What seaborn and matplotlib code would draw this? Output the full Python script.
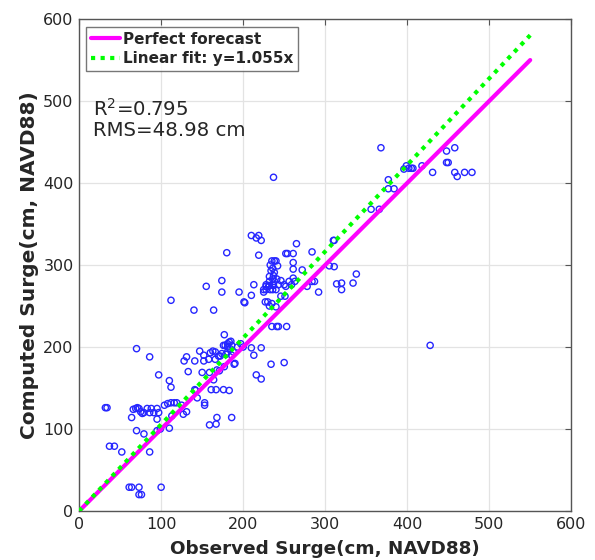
import numpy as np
import pandas as pd
import matplotlib
matplotlib.use("Agg")
import matplotlib.pyplot as plt
import seaborn as sns

observed = [
    32, 34, 37, 43, 52, 61, 64, 73, 73, 76, 100, 70, 86, 64,
    66, 69, 71, 73, 75, 77, 79, 70, 79, 86, 83, 88, 95, 86, 91, 97,
    95, 95, 99, 110, 97, 110, 112, 104, 108, 112, 116, 119, 113,
    125, 127, 131,
    128, 131, 133, 141, 141, 142, 144, 147, 150, 153, 153, 152, 152,
    159, 159, 160, 163, 166, 158, 166, 161, 167, 164, 168, 168, 167,
    171, 172, 170, 174, 176, 183, 177, 177, 176, 178, 181, 183, 185,
    181, 184, 181, 186, 188, 179, 186, 186, 189, 190, 193, 197, 200,
    202, 210, 213, 216, 222, 222, 234, 235, 241, 243, 253, 250,
    237, 210, 216, 219, 222, 180, 219, 265, 284, 174, 174, 155, 112,
    140, 164, 195, 201, 210, 213, 225, 228, 231,
    235, 238, 240, 233, 242, 236, 234, 238, 237, 232, 236, 241, 232,
    238, 228, 232, 237, 243, 225, 228, 233, 236, 240,
    227, 230, 235, 232, 240, 246, 251,
    246, 250, 252, 256, 259, 261, 263,
    252, 254, 261, 261, 261, 272, 278, 284, 287, 292,
    305, 311, 310, 311, 314, 320, 320, 334, 338, 356, 366,
    368, 377, 377, 384, 396, 399, 402, 405, 407, 418, 431,
    448, 448, 450, 458, 458, 461, 470, 479, 428,
]
computed = [
    126, 126, 79, 79, 72, 29, 29, 29, 20, 20, 29, 198, 188, 114,
    124, 125, 126, 125, 121, 119, 120, 98, 94, 72, 125, 125, 125, 120, 120, 120,
    112, 98, 100, 101, 166, 159, 151, 129, 131, 132, 132, 132, 116,
    129, 118, 121,
    183, 188, 170, 183, 148, 147, 138, 195, 169, 132, 129, 183, 190,
    169, 105, 193, 195, 194, 185, 185, 148, 148, 160, 172, 114, 106,
    171, 189, 189, 192, 148, 147, 176, 215, 202, 202, 204, 206, 207,
    200, 198, 194, 202, 194, 191, 190, 114, 179, 180, 200, 204, 200,
    254, 199, 190, 166, 161, 199, 179, 225, 225, 225, 225, 181,
    407, 336, 333, 336, 330, 315, 312, 326, 316, 281, 267, 274, 257,
    245, 245, 267, 255, 263, 276, 267, 274, 274,
    305, 305, 305, 300, 299, 296, 293, 291, 287, 286, 283, 283, 280,
    280, 276, 275, 275, 276, 270, 270, 270, 270, 270,
    255, 255, 253, 250, 249, 262, 262,
    281, 276, 274, 280, 276, 284, 280,
    314, 314, 314, 303, 295, 294, 274, 280, 280, 267,
    299, 298, 330, 330, 277, 278, 270, 278, 289, 368, 368,
    443, 404, 393, 393, 417, 421, 418, 418, 418, 421, 413,
    439, 425, 425, 443, 413, 408, 413, 413, 202,
]

fit_slope = 1.055
line_x = [0, 550]
perfect_y = [0, 550]
fit_y = [v * fit_slope for v in line_x]

r2_text = "R$^2$=0.795"
rms_text = "RMS=48.98 cm"

sns.set_style("white")
plt.rcParams['font.family'] = ['DejaVu Sans']

fig = plt.figure(figsize=(5.95, 5.6), dpi=100)
ax = fig.add_axes([0.133, 0.0875, 0.827, 0.8785])

df = pd.DataFrame({"obs": observed, "comp": computed})
sns.scatterplot(data=df, x="obs", y="comp", ax=ax, marker="o", s=20,
                facecolor="none", edgecolor=(0.15, 0.15, 1.0), linewidth=1.0,
                zorder=3)

lines_df = pd.DataFrame({"x": line_x, "perfect": perfect_y, "fit": fit_y})
sns.lineplot(data=lines_df, x="x", y="perfect", ax=ax, color="#ff00ff",
             linewidth=3, zorder=4, label="Perfect forecast")
sns.lineplot(data=lines_df, x="x", y="fit", ax=ax, color="#00ff00",
             linewidth=3, linestyle=(0, (1, 1.3)), zorder=5,
             label="Linear fit: y=1.055x")

ax.set_xlim(0, 600)
ax.set_ylim(0, 600)
ax.set_xticks(range(0, 601, 100))
ax.set_yticks(range(0, 601, 100))
ax.grid(True, color="#e3e3e3", linewidth=0.9)
ax.set_axisbelow(True)
ax.tick_params(direction="in", top=True, right=True, length=4,
               labelsize=11.5, color="#555555", pad=4)
for sp in ax.spines.values():
    sp.set_color("#555555")
    sp.set_linewidth(1.0)

ax.set_xlabel("Observed Surge(cm, NAVD88)", fontsize=13.2, fontweight="bold", labelpad=6)
ax.set_ylabel("Computed Surge(cm, NAVD88)", fontsize=14.5, fontweight="bold", labelpad=3)

leg = ax.legend(loc="upper left", bbox_to_anchor=(0.008, 0.99), frameon=True,
                fancybox=False, edgecolor="#555555", fontsize=11,
                handlelength=1.9, handletextpad=0.2, borderpad=0.3,
                labelspacing=0.3, borderaxespad=0.2)
leg.get_frame().set_linewidth(1.0)
for t in leg.get_texts():
    t.set_fontweight("bold")

ax.text(17, 491, r2_text, fontsize=14.2, va="center", ha="left")
ax.text(17, 464, rms_text, fontsize=14.2, va="center", ha="left")

fig.savefig("out.png", dpi=100)
